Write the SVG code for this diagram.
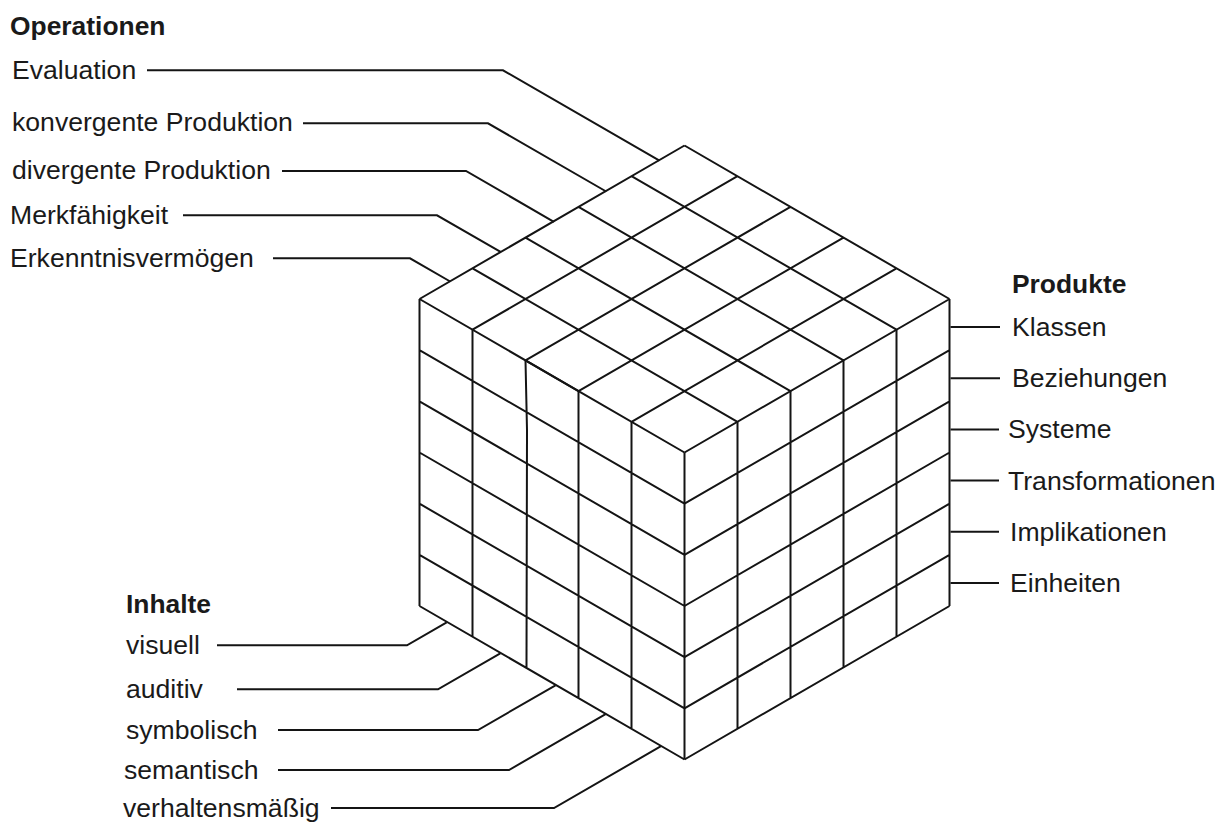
<svg xmlns="http://www.w3.org/2000/svg" width="1227" height="822" viewBox="0 0 1227 822">
<style>
.bg{fill:#ffffff}
.g{fill:none;stroke:#141414;stroke-width:2;stroke-linejoin:miter;stroke-linecap:butt}
.c{fill:none;stroke:#141414;stroke-width:2}
.t{font-family:"Liberation Sans",Arial,sans-serif;font-size:26.6px;fill:#1a1a1a}
.h{font-family:"Liberation Sans",Arial,sans-serif;font-size:26.4px;font-weight:bold;fill:#1a1a1a}
</style>
<rect class="bg" x="0" y="0" width="1227" height="822"/>
<g id="cube">
<path id="top-face" class="g" d="M684.5,145.5 L949.5,299 M631.5,176.2 L896.5,329.7 M578.5,206.9 L843.5,360.4 M525.5,237.6 L790.5,391.1 M472.5,268.3 L737.5,421.8 M419.5,299 L684.5,452.5 M684.5,145.5 L419.5,299 M737.5,176.2 L472.5,329.7 M790.5,206.9 L525.5,360.4 M843.5,237.6 L578.5,391.1 M896.5,268.3 L631.5,421.8 M949.5,299 L684.5,452.5"/>
<path id="left-face" class="g" d="M419.5,299 V606 M472.5,329.7 V636.7 M525.5,360.4 L527,430 L526.5,667.4 M578.5,391.1 V698.1 M631.5,421.8 V728.8 M684.5,452.5 V759.5 M419.5,350.2 L684.5,503.7 M419.5,401.3 L684.5,554.8 M419.5,452.5 L684.5,606 M419.5,503.7 L684.5,657.2 M419.5,554.8 L684.5,708.3 M419.5,606 L684.5,759.5"/>
<path class="g" stroke-width="3" d="M525.5,360.4 L578.5,391.1"/>
<path id="right-face" class="g" d="M737.5,421.8 V728.8 M790.5,391.1 V698.1 M843.5,360.4 V667.4 M896.5,329.7 V636.7 M949.5,299 V606 M684.5,503.7 L949.5,350.2 M684.5,554.8 L949.5,401.3 M684.5,606 L949.5,452.5 M684.5,657.2 L949.5,503.7 M684.5,708.3 L949.5,554.8 M684.5,759.5 L949.5,606"/>
</g>
<g id="connectors">
<polyline class="c" points="147,70.3 503,70.3 659.5,160.7"/>
<polyline class="c" points="303,123.3 488,123.3 606.2,191.5"/>
<polyline class="c" points="282,171 466,171 553.9,221.8"/>
<polyline class="c" points="183,215.3 437,215.3 501,252.2"/>
<polyline class="c" points="273,258.3 410,258.3 450.2,281.5"/>
<polyline class="c" points="217,645.3 407,645.3 446.7,622.4"/>
<polyline class="c" points="237,689.3 438,689.3 500.3,653.3"/>
<polyline class="c" points="278,730 478,730 555.5,685.3"/>
<polyline class="c" points="278,770 509,770 605.6,714.2"/>
<polyline class="c" points="331,808 554,808 661,746.2"/>
<line class="c" x1="950.5" y1="327" x2="1000" y2="327"/>
<line class="c" x1="950.5" y1="378.2" x2="1000" y2="378.2"/>
<line class="c" x1="950.5" y1="429.4" x2="999" y2="429.4"/>
<line class="c" x1="950.5" y1="480.6" x2="999" y2="480.6"/>
<line class="c" x1="950.5" y1="531.8" x2="999" y2="531.8"/>
<line class="c" x1="950.5" y1="583" x2="999" y2="583"/>
</g>
<g id="operationen">
<text class="h" x="10" y="35">Operationen</text>
<g id="op-evaluation"><text class="t" x="12" y="79">Evaluation</text></g>
<g id="op-konvergent"><text class="t" x="12" y="131">konvergente Produktion</text></g>
<g id="op-divergent"><text class="t" x="12" y="179">divergente Produktion</text></g>
<g id="op-merk"><text class="t" x="10" y="224">Merkfähigkeit</text></g>
<g id="op-erkennt"><text class="t" x="10" y="267">Erkenntnisvermögen</text></g>
</g>
<g id="produkte">
<text class="h" x="1012" y="293">Produkte</text>
<g id="pr-klassen"><text class="t" x="1012" y="336">Klassen</text></g>
<g id="pr-beziehungen"><text class="t" x="1012" y="387">Beziehungen</text></g>
<g id="pr-systeme"><text class="t" x="1008" y="438">Systeme</text></g>
<g id="pr-transformationen"><text class="t" x="1008" y="490">Transformationen</text></g>
<g id="pr-implikationen"><text class="t" x="1010" y="541">Implikationen</text></g>
<g id="pr-einheiten"><text class="t" x="1010" y="592">Einheiten</text></g>
</g>
<g id="inhalte">
<text class="h" x="126" y="613">Inhalte</text>
<g id="in-visuell"><text class="t" x="126" y="654">visuell</text></g>
<g id="in-auditiv"><text class="t" x="126" y="698">auditiv</text></g>
<g id="in-symbolisch"><text class="t" x="126" y="739">symbolisch</text></g>
<g id="in-semantisch"><text class="t" x="124" y="779">semantisch</text></g>
<g id="in-verhalten"><text class="t" x="123" y="817">verhaltensmäßig</text></g>
</g>
</svg>
